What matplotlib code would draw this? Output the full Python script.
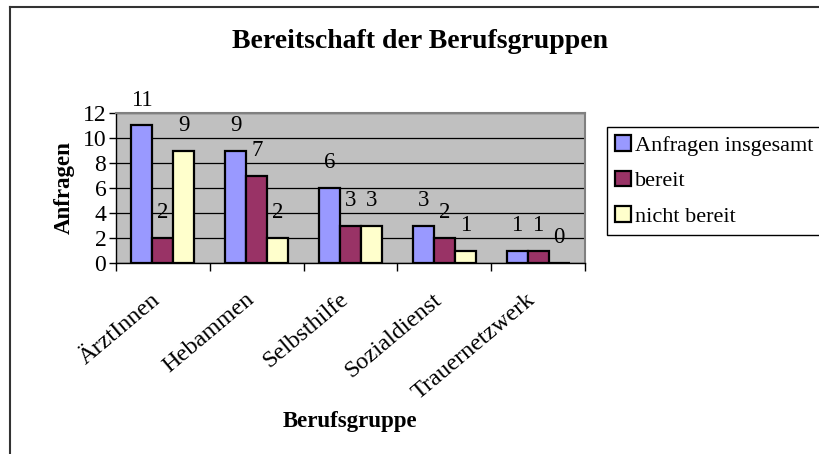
import numpy as np
import matplotlib
matplotlib.use('Agg')
import matplotlib.pyplot as plt
import matplotlib.transforms as mtransforms
from matplotlib.lines import Line2D

plt.rcParams['font.family'] = ['Liberation Serif', 'DejaVu Serif']

categories = ['ÄrztInnen', 'Hebammen', 'Selbsthilfe', 'Sozialdienst', 'Trauernetzwerk']
series_names = ['Anfragen insgesamt', 'bereit', 'nicht bereit']
anfragen = [11, 9, 6, 3, 1]
bereit = [2, 7, 3, 2, 1]
nicht_bereit = [9, 2, 3, 1, 0]
colors = ['#9999FF', '#993366', '#FFFFCC']

W, H = 819, 454
fig = plt.figure(figsize=(W / 100, H / 100), dpi=100)
ax = fig.add_axes([116 / W, 1 - 263 / H, 469 / W, 150 / H])
ax.set_facecolor('#C0C0C0')

x = np.arange(len(categories))
w = 0.224
for i, (vals, name, c) in enumerate(zip([anfragen, bereit, nicht_bereit], series_names, colors)):
    pos = x + (i - 1) * w
    ax.bar(pos, vals, width=w, color=c, edgecolor='black', linewidth=1.6, label=name, zorder=3)
    for px, v in zip(pos, vals):
        ax.annotate(str(v), (px, v), xytext=(0, 25), textcoords='offset pixels',
                    ha='center', va='center', fontsize=16.5)

ax.set_xlim(-0.5, len(categories) - 0.5)
ax.set_ylim(0, 12)
ax.set_yticks(range(0, 13, 2))
ax.yaxis.grid(True, color='black', linewidth=0.9, zorder=0)
ax.set_axisbelow(True)

# category labels, rotated, placed under each group
ax.set_xticks(x)
ax.set_xticklabels([])
lbl_tr = ax.get_xaxis_transform() + mtransforms.ScaledTranslation(-12 / 100, -26 / 100, fig.dpi_scale_trans)
for xi, name in zip(x, categories):
    ax.text(xi, 0, name, transform=lbl_tr, rotation=40, ha='right', va='top',
            rotation_mode='anchor', fontsize=17.5)
ax.set_xticks(np.arange(-0.5, len(categories), 1.0), minor=True)
ax.tick_params(axis='x', which='major', length=0)
ax.tick_params(axis='x', which='minor', length=6, width=1, direction='out')
ax.tick_params(axis='y', length=5, width=1, labelsize=17, pad=2)

for s in ['top', 'right']:
    ax.spines[s].set_color('#808080')
    ax.spines[s].set_linewidth(1.5)
for s in ['left', 'bottom']:
    ax.spines[s].set_color('black')
    ax.spines[s].set_linewidth(1)

ax.set_ylabel('Anfragen', fontsize=16.5, fontweight='bold', labelpad=6)
fig.text(350 / W, 1 - 422 / H, 'Berufsgruppe', ha='center', va='center', fontsize=16.5, fontweight='bold')
fig.text(420 / W, 1 - 42 / H, 'Bereitschaft der Berufsgruppen', ha='center', va='center',
         fontsize=20, fontweight='bold')

leg = fig.legend(loc='upper left', bbox_to_anchor=(607 / W, 1 - 127 / H), fontsize=16,
                 frameon=True, fancybox=False, edgecolor='black', framealpha=1,
                 handlelength=0.7, handleheight=0.7, handletextpad=0.2,
                 labelspacing=0.68, borderpad=0.36, borderaxespad=0)
leg.get_frame().set_linewidth(1)

# outer chart frame (cropped)
fig.add_artist(Line2D([10 / W, 1], [1 - 7 / H, 1 - 7 / H], color='#333333', linewidth=1.5))
fig.add_artist(Line2D([10 / W, 10 / W], [0, 1 - 7 / H], color='#333333', linewidth=1.5))

fig.savefig('out.png', dpi=100)
